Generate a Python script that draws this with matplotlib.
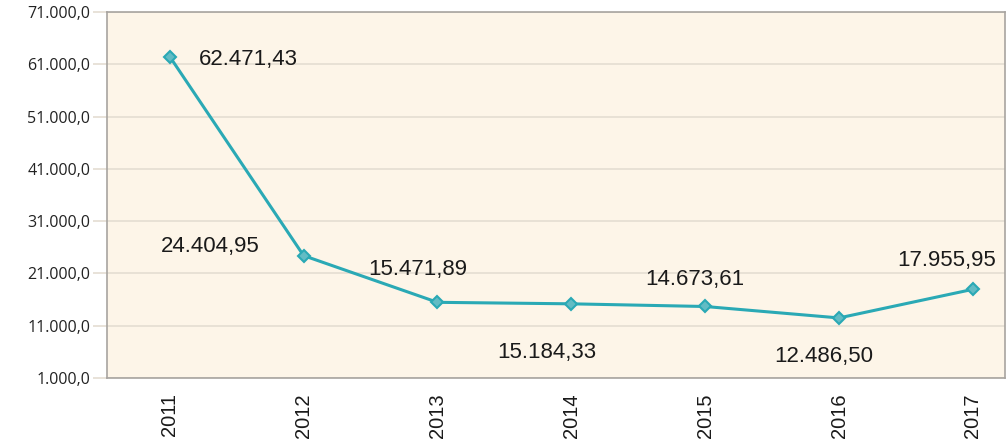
import numpy as np
import matplotlib
matplotlib.use("Agg")
import matplotlib.pyplot as plt

years = ["2011", "2012", "2013", "2014", "2015", "2016", "2017"]
values = [62471.43, 24404.95, 15471.89, 15184.33, 14673.61, 12486.50, 17955.95]
point_labels = ["62.471,43", "24.404,95", "15.471,89", "15.184,33", "14.673,61", "12.486,50", "17.955,95"]
yticks = [1000, 11000, 21000, 31000, 41000, 51000, 61000, 71000]
ytick_labels = ["1.000,0", "11.000,0", "21.000,0", "31.000,0", "41.000,0", "51.000,0", "61.000,0", "71.000,0"]

# label offsets in pixels from each point (x right, y up)
offsets = [(79, -3), (-93, 9), (-20, 33), (-24, -49), (-10, 27), (-15, -39), (-26, 29)]

narrow = ["Liberation Sans Narrow", "Liberation Sans", "DejaVu Sans"]

fig = plt.figure(figsize=(10.08, 4.45), dpi=100)
ax = fig.add_axes([0.106, 0.1506, 0.891, 0.8224])
ax.set_facecolor("#fdf5e8")

x = np.arange(len(years))
ax.plot(x, values, color="#2aa9b5", linewidth=2.2, marker="D", markersize=6.5,
        markerfacecolor="#62bcc4", markeredgecolor="#2aa9b5", markeredgewidth=1.5, zorder=3)

for xi, v, lab, off in zip(x, values, point_labels, offsets):
    ax.annotate(lab, (xi, v), xytext=off, textcoords="offset pixels",
                ha="center", va="center", fontsize=16, color="#1a1a1a", family=narrow)

ax.set_xlim(-0.47, 6.24)
ax.set_ylim(1000, 71000)
ax.set_yticks(yticks)
ax.set_yticklabels(ytick_labels, fontsize=11.5, color="#222222", family=["Open Sans", "DejaVu Sans"])
ax.set_xticks(x)
ax.set_xticklabels(years, rotation=90, fontsize=14.5, color="#1a1a1a", family=narrow)

ax.grid(axis="y", color="#e4ddd2", linewidth=1.2)
ax.set_axisbelow(True)
ax.tick_params(axis="y", length=10, color="#e4ddd2", width=1.2, pad=2)
ax.tick_params(axis="x", length=0, pad=11)
for s in ax.spines.values():
    s.set_color("#a8a4a0")
    s.set_linewidth(1.2)

fig.savefig("out.png", dpi=100)
